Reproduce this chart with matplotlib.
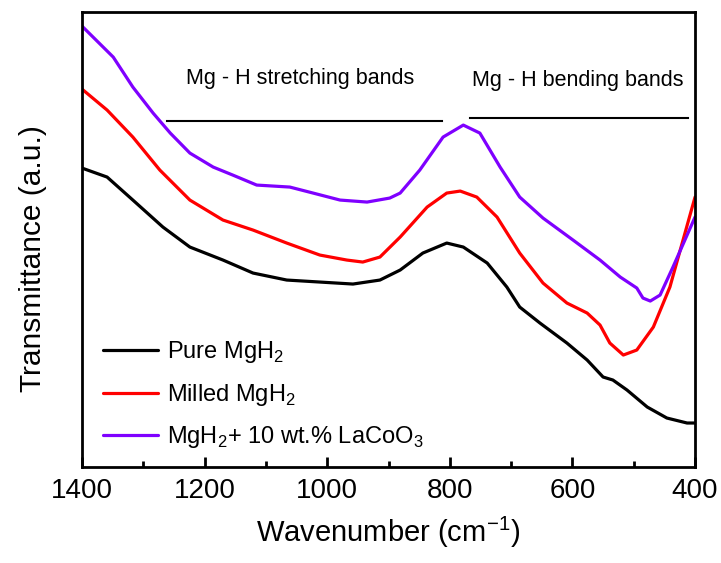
import matplotlib
matplotlib.use("Agg")
import matplotlib.pyplot as plt

plt.rcParams['font.family'] = ['Liberation Sans', 'DejaVu Sans']
plt.rcParams['mathtext.fontset'] = 'custom'
plt.rcParams['mathtext.rm'] = 'Liberation Sans'

# Pure MgH2
wn_pure = [1400, 1359, 1317, 1268, 1224, 1170, 1121, 1066, 1012, 958, 914, 881, 844,
           805, 778, 739, 707, 686, 653, 609, 576, 550, 534, 511, 478, 446, 413, 400]
t_pure = [302, 293, 270, 243, 223, 210, 197, 190, 188, 186, 190, 200, 217,
          227, 223, 207, 183, 163, 147, 127, 110, 93, 90, 80, 63, 52, 47, 47]

# Milled MgH2
wn_milled = [1400, 1359, 1317, 1273, 1224, 1170, 1121, 1066, 1012, 968, 942, 914, 881, 837,
             805, 783, 756, 723, 686, 648, 609, 576, 555, 539, 517, 495, 468, 441, 400]
t_milled = [381, 360, 333, 300, 270, 250, 240, 227, 215, 210, 208, 213, 233, 263,
            277, 279, 273, 253, 217, 187, 167, 157, 145, 127, 115, 120, 143, 183, 273]

# MgH2 + 10 wt.% LaCoO3
wn_doped = [1400, 1349, 1317, 1284, 1256, 1224, 1186, 1154, 1115, 1061, 1023, 979, 935, 898,
            881, 849, 811, 778, 751, 718, 686, 648, 599, 555, 522, 495, 485, 473, 457, 436, 400]
t_doped = [444, 413, 383, 357, 337, 317, 303, 295, 285, 283, 277, 270, 268, 272,
           277, 300, 333, 345, 337, 303, 273, 252, 230, 210, 193, 182, 172, 169, 175, 203, 253]

labels = ['Pure MgH$_2$', 'Milled MgH$_2$', 'MgH$_2$+ 10 wt.% LaCoO$_3$']
colors = ['#000000', '#FF0000', '#7F00FF']

# band annotations
stretch_range = [1261, 813]
bend_range = [767, 411]

fig = plt.figure(figsize=(7.21, 5.63), dpi=100)
ax = fig.add_axes([0.1137, 0.1705, 0.8503, 0.808])

for wn, t, lab, c in zip([wn_pure, wn_milled, wn_doped], [t_pure, t_milled, t_doped], labels, colors):
    ax.plot(wn, t, color=c, lw=2.3, label=lab, solid_joinstyle='round', solid_capstyle='round')

ax.plot(stretch_range, [349, 349], color='black', lw=1.5)
ax.plot(bend_range, [352, 352], color='black', lw=1.5)
ax.text(1044, 392, 'Mg - H stretching bands', ha='center', va='center', fontsize=15.5)
ax.text(591, 390, 'Mg - H bending bands', ha='center', va='center', fontsize=15.5)

ax.set_xlim(1400, 400)
ax.set_ylim(3, 458)
ax.set_xticks([1400, 1200, 1000, 800, 600, 400])
ax.set_xticks([1300, 1100, 900, 700, 500], minor=True)
ax.set_yticks([])
ax.tick_params(axis='x', which='major', direction='in', length=7, width=2, labelsize=20, pad=8)
ax.tick_params(axis='x', which='minor', direction='in', length=4, width=2)
for s in ax.spines.values():
    s.set_linewidth(2)

ax.set_xlabel('Wavenumber (cm$^{-1}$)', fontsize=21, labelpad=8)
ax.set_ylabel('Transmittance (a.u.)', fontsize=21.5)
ax.yaxis.set_label_coords(-0.057, 0.459)

ax.legend(loc='lower left', bbox_to_anchor=(0.0, -0.01), frameon=False, fontsize=17,
          handlelength=2.3, handletextpad=0.4, labelspacing=0.7)

fig.savefig('out.png', dpi=100)
